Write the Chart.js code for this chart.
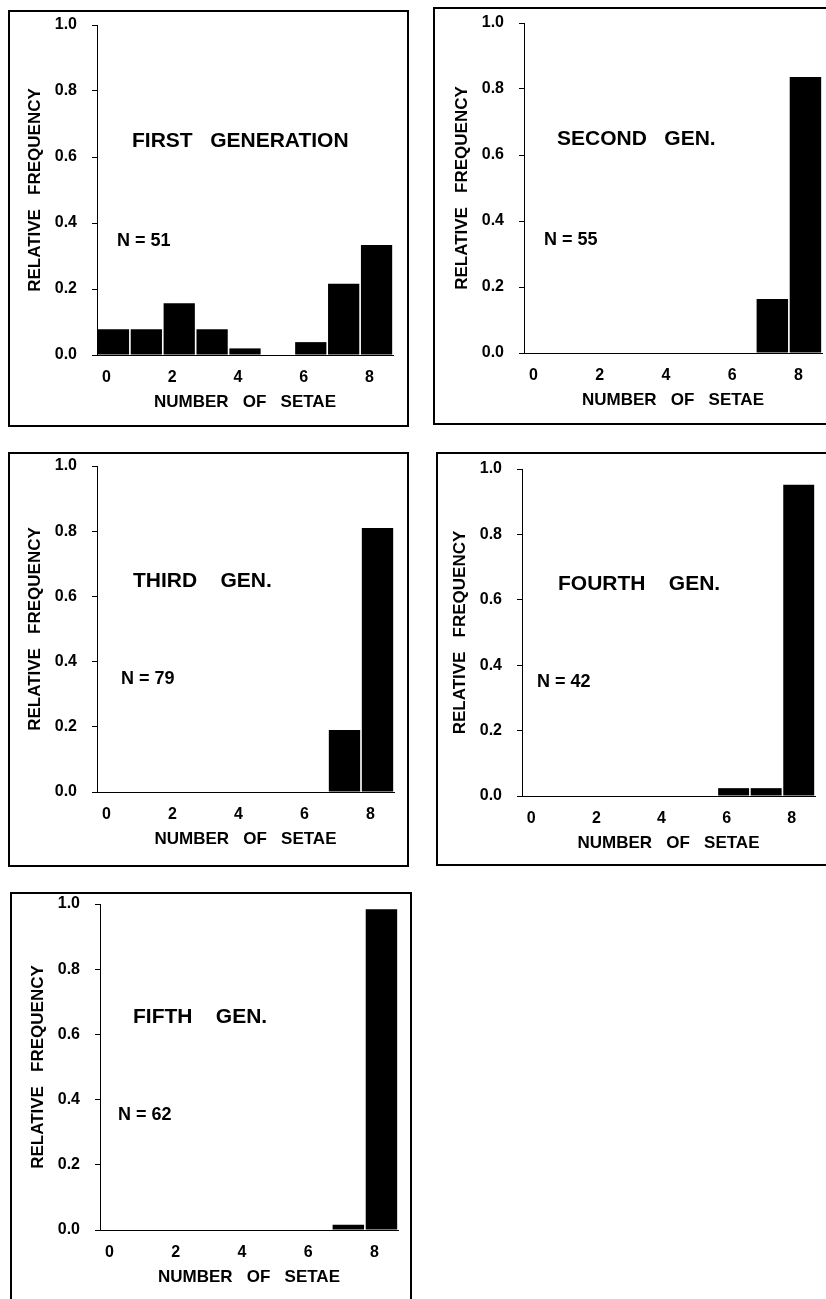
<!DOCTYPE html>
<html lang="en">
<head>
<title>Number of setae by generation</title>
<script src="https://cdn.jsdelivr.net/npm/chart.js@4.4.0/dist/chart.umd.min.js"></script>
<style>
    body { margin: 0; width: 826px; height: 1299px; overflow: hidden; background: #fff; position: relative; }
    .panel { position: absolute; border: 2px solid #000; box-sizing: border-box; overflow: hidden; }
    .panel canvas { position: absolute; left: 0; top: 0; }
</style>
</head>
<body>

<script>
    // data (relative frequency per number of setae)
    var setae = ['0', '1', '2', '3', '4', '5', '6', '7', '8'];
    var yTicks = [0, 0.2, 0.4, 0.6, 0.8, 1.0];
    var first  = [0.078, 0.078, 0.157, 0.078, 0.020, 0, 0.039, 0.216, 0.333];
    var second = [0, 0, 0, 0, 0, 0, 0, 0.164, 0.836];
    var third  = [0, 0, 0, 0, 0, 0, 0, 0.190, 0.810];
    var fourth = [0, 0, 0, 0, 0, 0, 0.024, 0.024, 0.952];
    var fifth  = [0, 0, 0, 0, 0, 0, 0, 0.016, 0.984];
    var titles = ['FIRST   GENERATION', 'SECOND   GEN.', 'THIRD    GEN.', 'FOURTH    GEN.', 'FIFTH    GEN.'];
    var sizes  = ['N = 51', 'N = 55', 'N = 79', 'N = 42', 'N = 62'];

    var series = [first, second, third, fourth, fifth];

    // layout: box [left, top, width, height], plot [axisX, top, bottom, right] inside the box,
    // text [title dx, title y value, N dx, N y value]
    var boxes = [[8, 10, 401, 417], [433, 7, 401, 418], [8, 452, 401, 415], [436, 452, 401, 414], [10, 892, 402, 420]];
    var plots = [[87, 13, 343, 383], [89, 14, 344, 387], [87, 12, 338, 384], [84, 15, 342, 377], [88, 10, 336, 386]];
    var texts = [[35, 0.648, 20, 0.346], [33, 0.648, 20, 0.343], [36, 0.646, 24, 0.348], [36, 0.647, 15, 0.35], [33, 0.652, 18, 0.354]];

    var FONT = '"Liberation Sans", Arial, Helvetica, sans-serif';

    var panelText = {
        id: 'panelText',
        afterDraw: function (chart, args, opts) {
            var ctx = chart.ctx, a = chart.chartArea, y = chart.scales.y;
            ctx.save();
            ctx.fillStyle = '#000';
            ctx.textBaseline = 'middle';
            ctx.textAlign = 'left';
            ctx.font = 'bold 21px ' + FONT;
            ctx.fillText(opts.title, a.left + opts.pos[0], y.getPixelForValue(opts.pos[1]));
            ctx.font = 'bold 18px ' + FONT;
            ctx.fillText(opts.n, a.left + opts.pos[2], y.getPixelForValue(opts.pos[3]));
            ctx.restore();
        }
    };

    series.forEach(function (vals, i) {
        var b = boxes[i], p = plots[i];
        var innerW = b[2] - 4, innerH = b[3] - 4;

        var div = document.createElement('div');
        div.className = 'panel';
        div.style.left = b[0] + 'px';
        div.style.top = b[1] + 'px';
        div.style.width = b[2] + 'px';
        div.style.height = b[3] + 'px';
        var cv = document.createElement('canvas');
        cv.width = innerW;
        cv.height = innerH;
        div.appendChild(cv);
        document.body.appendChild(div);

        new Chart(cv, {
            type: 'bar',
            data: {
                labels: setae,
                datasets: [{
                    data: vals,
                    backgroundColor: '#000',
                    borderWidth: 0,
                    categoryPercentage: 1,
                    barPercentage: 0.95
                }]
            },
            plugins: [panelText],
            options: {
                responsive: false,
                animation: false,
                layout: {
                    padding: { left: 0, top: p[1], right: innerW - p[3], bottom: innerH - p[2] - 70 }
                },
                plugins: {
                    legend: { display: false },
                    tooltip: { enabled: false },
                    panelText: { title: titles[i], n: sizes[i], pos: texts[i] }
                },
                scales: {
                    x: {
                        offset: true,
                        grid: { display: false, drawTicks: false },
                        border: { display: true, color: '#000', width: 1 },
                        ticks: {
                            autoSkip: false, maxRotation: 0, padding: 13, labelOffset: -7, color: '#000',
                            font: { family: FONT, size: 16, weight: 'bold' },
                            callback: function (v, k) { return k % 2 === 0 ? setae[k] : ''; }
                        },
                        title: {
                            display: true, text: 'NUMBER   OF   SETAE', color: '#000',
                            font: { family: FONT, size: 17, weight: 'bold' },
                            padding: { top: 0, bottom: 12 }
                        },
                        afterFit: function (s) { s.height = 70; s.paddingLeft = 0; s.paddingRight = 0; }
                    },
                    y: {
                        min: 0,
                        max: 1,
                        afterBuildTicks: function (s) { s.ticks = yTicks.map(function (v) { return { value: v }; }); },
                        grid: { drawOnChartArea: false, drawTicks: true, tickLength: 5, color: '#000' },
                        border: { display: true, color: '#000', width: 1 },
                        ticks: {
                            padding: 15, color: '#000',
                            font: { family: FONT, size: 16, weight: 'bold', lineHeight: 1 },
                            callback: function (v) { return v.toFixed(1); }
                        },
                        title: {
                            display: true, text: 'RELATIVE   FREQUENCY', color: '#000',
                            font: { family: FONT, size: 17, weight: 'bold' },
                            padding: { top: p[0] - 72, bottom: 0 }
                        },
                        afterFit: function (s) { s.width = p[0]; s.paddingTop = 0; s.paddingBottom = 0; }
                    }
                }
            }
        });
    });
</script>
</body>
</html>
